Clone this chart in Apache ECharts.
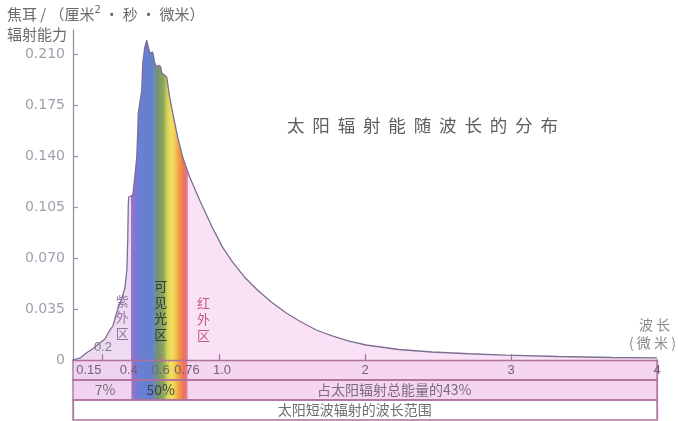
<!DOCTYPE html>
<html>
<head>
<meta charset="utf-8">
<script src="https://cdn.jsdelivr.net/npm/echarts@6/dist/echarts.min.js"></script>
<style>
  html, body { margin: 0; padding: 0; background: #ffffff; }
  #chart { width: 678px; height: 421px; }
</style>
</head>
<body>
<div id="chart"></div>
<script>
// Solar spectral irradiance, J/(cm²·s·µm), against wavelength in µm
const wavelength = [0, 0.048, 0.096, 0.137, 0.184, 0.218, 0.253, 0.273, 0.307, 0.335, 0.355, 0.369, 0.375, 0.379, 0.382,
  0.41, 0.423, 0.437, 0.444, 0.447, 0.457, 0.471, 0.478, 0.492, 0.505, 0.512, 0.526, 0.539, 0.546,
  0.56, 0.573, 0.587, 0.601, 0.608, 0.642, 0.662, 0.683, 0.717, 0.751, 0.799, 0.867, 0.956, 1.024,
  1.092, 1.174, 1.263, 1.358, 1.461, 1.55, 1.666, 1.775, 1.891, 2.007, 2.232, 2.457, 2.71, 2.962,
  3.324, 3.686, 4.0];
const irradiance = [0, 0.0014, 0.0051, 0.0079, 0.0117, 0.0144, 0.0206, 0.0233, 0.035, 0.0425, 0.0494, 0.0618, 0.0824, 0.1077, 0.1119,
  0.1132, 0.1256, 0.1393, 0.1578, 0.1695, 0.1702, 0.1853, 0.2038, 0.2148, 0.2196, 0.2162, 0.2107, 0.2107, 0.2114,
  0.2038, 0.2011, 0.2024, 0.2011, 0.197, 0.1942, 0.1805, 0.1695, 0.153, 0.1393, 0.1256, 0.1098, 0.0906, 0.0775,
  0.0673, 0.057, 0.048, 0.0398, 0.0323, 0.0268, 0.0206, 0.0165, 0.013, 0.0103, 0.0072, 0.0055, 0.0043, 0.0034,
  0.0024, 0.0017, 0.0014];

// Axis ticks
const yTicks = [0, 0.035, 0.07, 0.105, 0.14, 0.175, 0.21];
const xTickMarks = [0.2, 0.6, 1, 2, 3];
const xTickLabels = [0.15, 0.4, 0.6, 0.76, 1, 2, 3, 4];

// Wavelength bands (µm) and their share of total solar energy
const uvRange = [0, 0.4];
const visibleRange = [0.4, 0.785];
const irRange = [0.785, 4];
const energyShares = ['7%', '50%', '占太阳辐射总能量的43%'];
const bandNames = ['紫外区', '可见光区', '红外区'];
const shortwaveCaption = '太阳短波辐射的波长范围';

// Spectrum colours across the visible band, by wavelength
const spectrum = [
  [0.400, '#9d74c4'], [0.430, '#8474d0'], [0.445, '#6a80d6'], [0.535, '#647fd0'],
  [0.560, '#6a8cb0'], [0.580, '#74946a'], [0.620, '#8ea85a'], [0.645, '#d2d25c'],
  [0.675, '#f2e05c'], [0.700, '#f4c650'], [0.725, '#f0a044'], [0.755, '#ea784c'],
  [0.775, '#e8708a'], [0.785, '#ee8cb6']
];

const UV_FILL = '#ecdbf1';
const IR_FILL = '#f9e2f5';
const ROW_FILL = '#f6d5ee';
const ROW_FILL_UV = '#f0d3ee';
const RULE = '#b0709c';
const AXIS = '#9a92ac';
const TICK_TEXT = '#6f6478';
const X_MAX = 4;

// Area fill: lavender in the ultraviolet, spectrum in the visible, pink in the infrared
function areaGradient() {
  const stops = [{ offset: 0, color: UV_FILL }, { offset: (visibleRange[0] - 0.003) / X_MAX, color: UV_FILL }];
  spectrum.forEach(([w, c]) => stops.push({ offset: w / X_MAX, color: c }));
  stops.push({ offset: (visibleRange[1] + 0.006) / X_MAX, color: IR_FILL });
  stops.push({ offset: 1, color: IR_FILL });
  return new echarts.graphic.LinearGradient(0, 0, 1, 0, stops);
}

function bandGradient() {
  const span = visibleRange[1] - visibleRange[0];
  return new echarts.graphic.LinearGradient(0, 0, 1, 0,
    spectrum.map(([w, c]) => ({ offset: (w - visibleRange[0]) / span, color: c })));
}

// Rows beneath the axis: rows 2–3 hold tick labels and energy shares, row 0–1 the caption
const bandItems = [
  { value: [0, X_MAX, 1, 3], kind: 'fill', color: ROW_FILL },
  { value: [uvRange[0], uvRange[1], 1, 3], kind: 'fill', color: ROW_FILL_UV },
  { value: [visibleRange[0], visibleRange[1], 1, 3], kind: 'spectrum' },
  { value: [0, X_MAX, 2, 3], kind: 'outline' },
  { value: [0, X_MAX, 1, 2], kind: 'outline' },
  { value: [0, X_MAX, 0, 1], kind: 'outline' },
  { value: [0.22, 0.22, 1.5, 1.5], kind: 'text', text: energyShares[0] },
  { value: [0.6, 0.6, 1.5, 1.5], kind: 'text', text: energyShares[1], color: '#3e4050' },
  { value: [2.2, 2.2, 1.5, 1.5], kind: 'text', text: energyShares[2] },
  { value: [1.93, 1.93, 0.5, 0.5], kind: 'text', text: shortwaveCaption, color: '#6e6e6e' }
];

function renderBand(params, api) {
  const item = bandItems[params.dataIndex];
  const a = api.coord([api.value(0), api.value(3)]);
  const b = api.coord([api.value(1), api.value(2)]);
  if (item.kind === 'text') {
    return {
      type: 'text',
      style: {
        x: a[0], y: a[1], text: item.text, align: 'center', verticalAlign: 'middle',
        fill: item.color || '#7a6d80', font: '14px "Noto Sans CJK SC", sans-serif'
      }
    };
  }
  const shape = { x: a[0], y: a[1], width: b[0] - a[0], height: b[1] - a[1] };
  if (item.kind === 'fill') return { type: 'rect', shape, style: { fill: item.color } };
  if (item.kind === 'spectrum') return { type: 'rect', shape, style: { fill: bandGradient() } };
  return { type: 'rect', shape, style: { fill: 'none', stroke: RULE, lineWidth: 1.3 } };
}

const chart = echarts.init(document.getElementById('chart'), null, { renderer: 'canvas' });

const cjk = '"Noto Sans CJK SC", sans-serif';
const num = '"DejaVu Sans", "Noto Sans CJK SC", sans-serif';
const narrow = '"Liberation Sans", "Noto Sans CJK SC", sans-serif';

// Tick label styles: some labels sit slightly off their tick
const tickRich = {
  l: { padding: [0, 12, 0, 0], color: TICK_TEXT, fontSize: 13, fontFamily: narrow },
  m: { padding: [0, 5, 0, 0], color: TICK_TEXT, fontSize: 13, fontFamily: narrow },
  r: { padding: [0, 0, 0, 6], color: TICK_TEXT, fontSize: 13, fontFamily: narrow }
};
function tickText(v) {
  if (v === 0.15) return '{l|0.15}';
  if (v === 0.4) return '{m|0.4}';
  if (v === 0.76) return '{r|0.76}';
  if (v === 1) return '{r|1.0}';
  return String(v);
}

chart.setOption({
  animation: false,
  backgroundColor: '#ffffff',
  grid: [
    { left: 73, right: 21, top: 30, bottom: 61 },
    { left: 73, right: 21, top: 360, bottom: 1 }
  ],
  xAxis: [
    {
      type: 'value', gridIndex: 0, min: 0, max: X_MAX, z: 10,
      axisLine: { lineStyle: { color: RULE, width: 1.3 } },
      axisTick: { show: true, inside: true, length: 6, customValues: xTickMarks, lineStyle: { color: RULE, width: 1.2 } },
      axisLabel: {
        customValues: xTickLabels, margin: 4, color: TICK_TEXT, fontSize: 13, fontFamily: narrow,
        hideOverlap: false, formatter: tickText, rich: tickRich
      },
      splitLine: { show: false }
    },
    { type: 'value', gridIndex: 1, min: 0, max: X_MAX, show: false }
  ],
  yAxis: [
    {
      type: 'value', gridIndex: 0, min: 0, max: 0.2265,
      axisLine: { show: true, lineStyle: { color: AXIS, width: 1.3 } },
      axisTick: { show: true, inside: true, length: 5, customValues: yTicks, lineStyle: { color: AXIS, width: 1.2 } },
      axisLabel: {
        customValues: yTicks, margin: 8, color: '#a29eae', fontSize: 14, fontFamily: num,
        formatter: v => (v === 0 ? '0' : v.toFixed(3))
      },
      splitLine: { show: false }
    },
    {
      type: 'value', gridIndex: 1, min: 0, max: 3,
      axisLine: { show: true, lineStyle: { color: AXIS, width: 1.3 } },
      axisTick: { show: false }, axisLabel: { show: false }, splitLine: { show: false }
    },
    {
      type: 'value', gridIndex: 1, min: 0, max: 3, position: 'right',
      axisLine: { show: true, lineStyle: { color: '#b58aaa', width: 1.3 } },
      axisTick: { show: false }, axisLabel: { show: false }, splitLine: { show: false }
    }
  ],
  series: [
    {
      type: 'custom', xAxisIndex: 1, yAxisIndex: 1, z: 1,
      data: bandItems.map(d => d.value),
      renderItem: renderBand,
      silent: true
    },
    {
      type: 'line', xAxisIndex: 0, yAxisIndex: 0, z: 3,
      data: wavelength.map((w, i) => [w, irradiance[i]]),
      showSymbol: false, symbol: 'none', smooth: false,
      lineStyle: { color: '#7c6e90', width: 1.3 },
      areaStyle: { color: areaGradient(), opacity: 1 },
      markPoint: {
        symbol: 'circle', symbolSize: 0, silent: true,
        label: { show: true, position: 'inside', fontFamily: cjk, fontSize: 13, lineHeight: 16 },
        data: [
          { coord: [0.338, 0.0292], value: 0, label: { formatter: bandNames[0].split('').join('\n'), color: '#94749f' } },
          { coord: [0.601, 0.0343], value: 0, label: { formatter: bandNames[1].split('').join('\n'), color: '#343c3a' } },
          { coord: [0.894, 0.0281], value: 0, label: { formatter: bandNames[2].split('').join('\n'), color: '#c4567f' } },
          { coord: [0.205, 0.0089], value: 0, label: { formatter: '0.2', color: '#857a8c', fontFamily: narrow } }
        ]
      }
    }
  ],
  graphic: [
    {
      type: 'text', left: 287, top: 117, silent: true,
      style: { text: '太  阳  辐  射  能  随  波  长  的  分  布', fill: '#5e5e5e', font: '17.5px "Noto Sans CJK SC", sans-serif' }
    },
    {
      type: 'text', left: 7, top: 5, silent: true,
      style: {
        text: '焦耳 / （厘米{s|2} · 秒 · 微米）', fill: '#6a6a6a', font: '15px "Noto Sans CJK SC", sans-serif',
        rich: { s: { fontSize: 10, padding: [0, 0, 9, 0], fill: '#6a6a6a', fontFamily: num } }
      }
    },
    {
      type: 'text', left: 7, top: 27, silent: true,
      style: { text: '辐射能力', fill: '#6a6a6a', font: '15px "Noto Sans CJK SC", sans-serif' }
    },
    {
      type: 'text', left: 639, top: 318, silent: true,
      style: { text: '波 长', fill: '#8a8a8a', font: '14px "Noto Sans CJK SC", sans-serif' }
    },
    {
      type: 'text', left: 629, top: 336, silent: true,
      style: { text: '( 微 米 )', fill: '#8a8a8a', font: '14px "Noto Sans CJK SC", sans-serif' }
    }
  ]
});
</script>
</body>
</html>
